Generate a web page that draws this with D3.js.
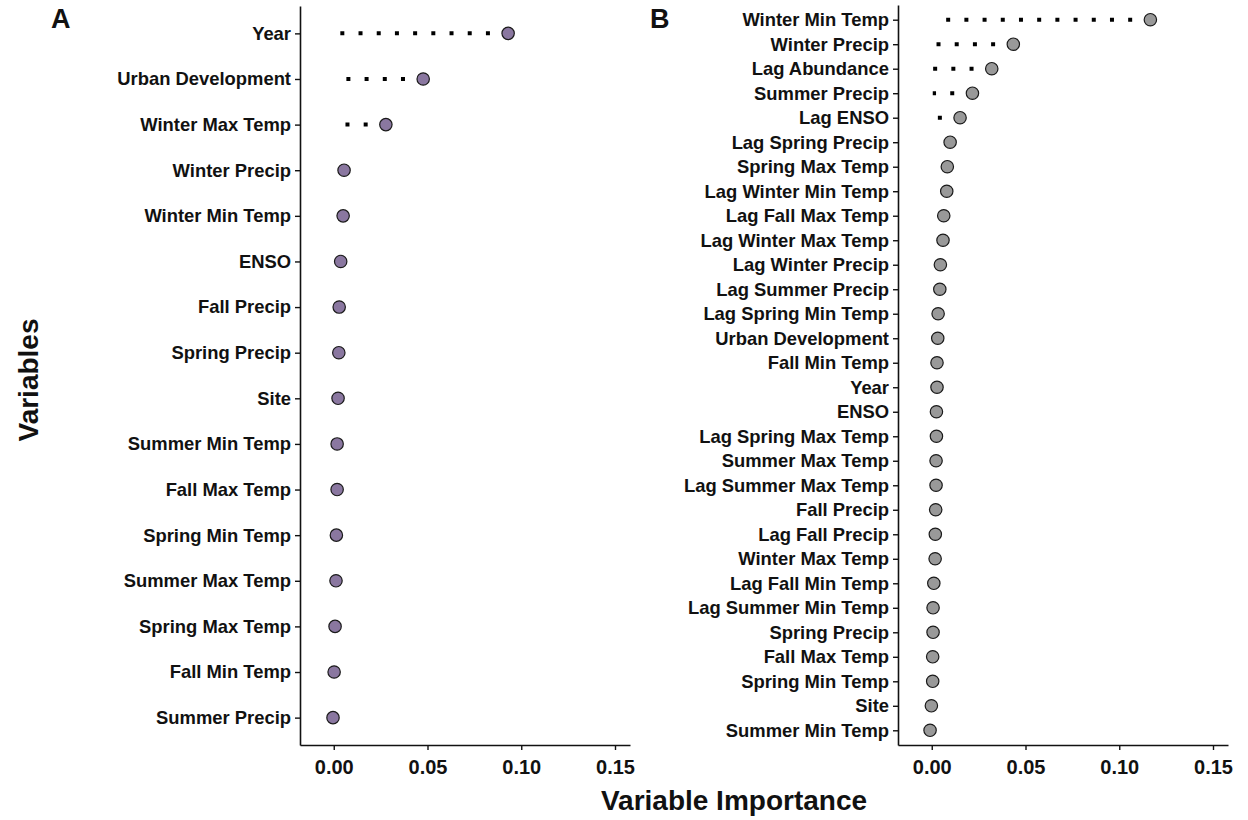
<!DOCTYPE html>
<html>
<head>
<meta charset="utf-8">
<script src="https://cdn.jsdelivr.net/npm/d3@7.9.0/dist/d3.min.js"></script>
<style>
  body { margin: 0; background: #fff; }
  svg text { font-family: "Liberation Sans", Arial, sans-serif; font-weight: bold; fill: #111; }
</style>
</head>
<body>
<svg id="chart" width="1248" height="820"></svg>
<script>
// panel A variables, top to bottom
const varsA = ['Year', 'Urban Development', 'Winter Max Temp', 'Winter Precip', 'Winter Min Temp',
  'ENSO', 'Fall Precip', 'Spring Precip', 'Site', 'Summer Min Temp', 'Fall Max Temp',
  'Spring Min Temp', 'Summer Max Temp', 'Spring Max Temp', 'Fall Min Temp', 'Summer Precip'];
const importanceA = [0.093, 0.0477, 0.0278, 0.0055, 0.005, 0.0037, 0.0029, 0.0027, 0.0023,
  0.0018, 0.0018, 0.0014, 0.0012, 0.0007, 0.0002, -0.0004];

// panel B variables, top to bottom
const varsB = ['Winter Min Temp', 'Winter Precip', 'Lag Abundance', 'Summer Precip', 'Lag ENSO',
  'Lag Spring Precip', 'Spring Max Temp', 'Lag Winter Min Temp', 'Lag Fall Max Temp',
  'Lag Winter Max Temp', 'Lag Winter Precip', 'Lag Summer Precip', 'Lag Spring Min Temp',
  'Urban Development', 'Fall Min Temp', 'Year', 'ENSO', 'Lag Spring Max Temp', 'Summer Max Temp',
  'Lag Summer Max Temp', 'Fall Precip', 'Lag Fall Precip', 'Winter Max Temp', 'Lag Fall Min Temp',
  'Lag Summer Min Temp', 'Spring Precip', 'Fall Max Temp', 'Spring Min Temp', 'Site', 'Summer Min Temp'];
const importanceB = [0.1166, 0.0435, 0.032, 0.0217, 0.0151, 0.0098, 0.0083, 0.008, 0.0064, 0.006,
  0.0046, 0.0043, 0.0034, 0.0032, 0.0028, 0.0028, 0.0025, 0.0025, 0.0023, 0.0023, 0.0021, 0.0019,
  0.0018, 0.0011, 0.0007, 0.0007, 0.0005, 0.0005, -0.0002, -0.0009];

const xTicks = [0, 0.05, 0.10, 0.15];
const xDomain = [-0.018, 0.158];

const svg = d3.select('#chart');

function drawPanel(vars, values, opts) {
  const x = d3.scaleLinear().domain(xDomain).range([opts.left, opts.right]);
  const y = d3.scalePoint().domain(vars).range([opts.top, opts.bottom]).padding(0.6);
  const g = svg.append('g');
  const rows = vars.map((v, i) => ({ name: v, value: values[i] }));

  // dotted leaders drawn from the point back towards zero
  g.selectAll('line.lead')
    .data(rows)
    .join('line')
      .attr('class', 'lead')
      .attr('x1', d => x(d.value))
      .attr('x2', x(0) + 1)
      .attr('y1', d => y(d.name))
      .attr('y2', d => y(d.name))
      .attr('stroke', '#000')
      .attr('stroke-width', 4)
      .attr('stroke-dasharray', '4 14.2');

  g.selectAll('circle')
    .data(rows)
    .join('circle')
      .attr('cx', d => x(d.value))
      .attr('cy', d => y(d.name))
      .attr('r', 6.2)
      .attr('fill', opts.fill)
      .attr('stroke', '#1a1a1a')
      .attr('stroke-width', 1.2);

  const yAxis = g.append('g')
    .attr('transform', `translate(${opts.left},0)`)
    .call(d3.axisLeft(y).tickSize(5).tickSizeOuter(0).tickPadding(4));
  yAxis.selectAll('text').style('font-size', '18.4px');

  const xAxis = g.append('g')
    .attr('transform', `translate(0,${opts.bottom})`)
    .call(d3.axisBottom(x).tickValues(xTicks).tickFormat(d3.format('.2f'))
      .tickSize(5).tickSizeOuter(0).tickPadding(6));
  xAxis.selectAll('text').style('font-size', '20px').attr('dy', '0.9em');

  [yAxis, xAxis].forEach(a => {
    a.select('.domain').attr('stroke', '#111').attr('stroke-width', 1.6);
    a.selectAll('.tick line').attr('stroke', '#111').attr('stroke-width', 1.4);
  });

  g.append('text')
    .attr('x', opts.tagX)
    .attr('y', 28)
    .style('font-size', '27px')
    .text(opts.tag);
}

drawPanel(varsA, importanceA, { left: 300, right: 630, top: 6, bottom: 745, fill: '#8a77a0', tag: 'A', tagX: 51 });
drawPanel(varsB, importanceB, { left: 898, right: 1228, top: 5, bottom: 745, fill: '#999999', tag: 'B', tagX: 650 });

svg.append('text')
  .attr('transform', 'translate(38,380) rotate(-90)')
  .attr('text-anchor', 'middle')
  .style('font-size', '28px')
  .text('Variables');

svg.append('text')
  .attr('x', 734)
  .attr('y', 810)
  .attr('text-anchor', 'middle')
  .style('font-size', '28px')
  .text('Variable Importance');
</script>
</body>
</html>
